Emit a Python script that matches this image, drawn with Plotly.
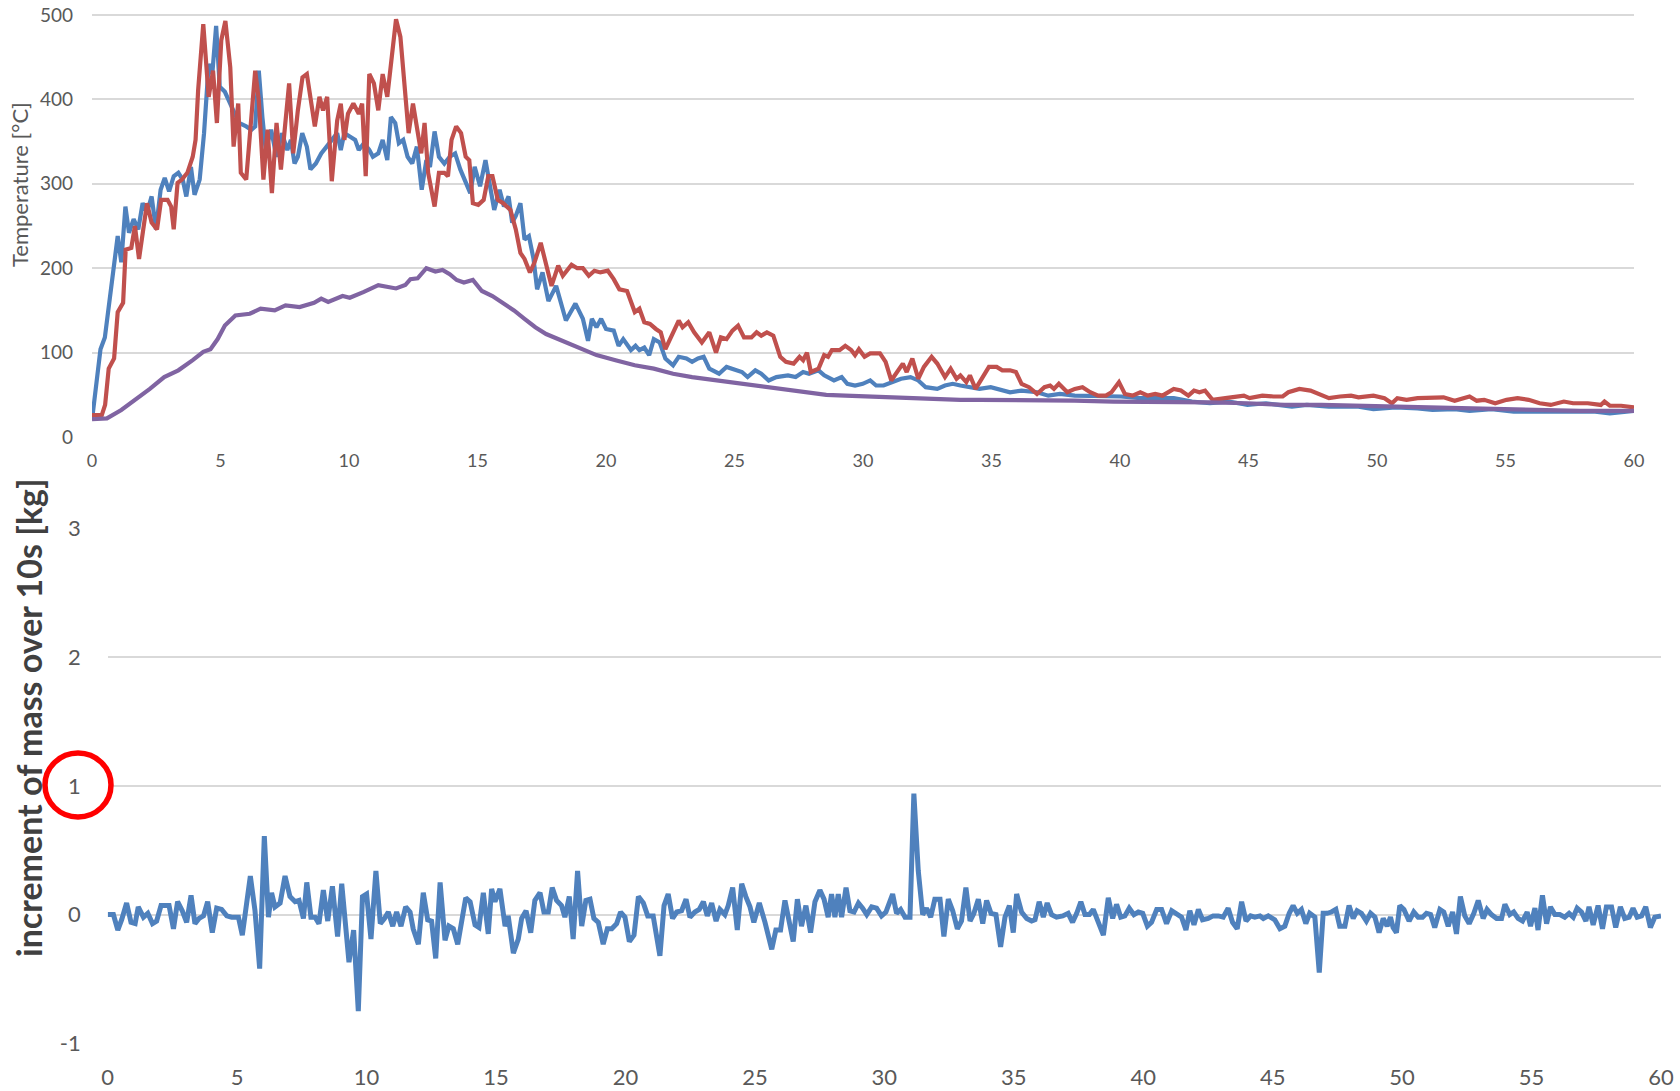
import plotly.graph_objects as go

# ---------------- data (time in minutes) ----------------
blue_t = [0, 0.33, 0.5, 1.0, 1.14, 1.3, 1.44, 1.62, 1.8, 1.97, 2.14, 2.32, 2.49, 2.67, 2.83, 3.0, 3.18, 3.36, 3.53, 3.67,
          3.85, 3.99, 4.19, 4.36, 4.54, 4.68, 4.83, 4.97, 5.17, 5.44, 5.72, 6.0, 6.2, 6.35, 6.49, 6.63, 6.76, 6.97, 7.18,
          7.39, 7.6, 7.74, 7.88, 8.01, 8.18, 8.36, 8.5, 8.71, 8.92, 9.13, 9.33, 9.54, 9.68, 9.82, 10.03, 10.24, 10.38,
          10.58, 10.79, 10.93, 11.14, 11.31, 11.49, 11.63, 11.8, 11.94, 12.11, 12.28, 12.46, 12.64, 12.83, 13.01, 13.15,
          13.33, 13.5, 13.71, 13.92, 14.13, 14.33, 14.54, 14.72, 14.89, 15.1, 15.31, 15.47, 15.65, 15.86, 16.03, 16.21,
          16.35, 16.49, 16.67, 16.83, 17.0, 17.18, 17.32, 17.53, 17.76, 18.06, 18.44, 18.81, 19.1, 19.3, 19.45, 19.63,
          19.81, 20.0, 20.3, 20.49, 20.67, 20.97, 21.15, 21.3, 21.49, 21.68, 21.86, 22.09, 22.31, 22.61, 22.83, 23.13,
          23.35, 23.58, 23.8, 24.02, 24.4, 24.69, 25.07, 25.29, 25.51, 25.81, 26.04, 26.33, 26.63, 27.08, 27.38, 27.67,
          27.9, 28.27, 28.49, 28.87, 29.17, 29.39, 29.69, 29.99, 30.28, 30.51, 30.8, 31.18, 31.48, 31.85, 32.15, 32.44,
          32.89, 33.19, 33.49, 33.79, 34.23, 34.53, 34.97, 35.27, 35.72, 36.17, 36.77, 37.21, 37.66, 38.24, 38.84,
          39.45, 40.04, 40.79, 42.09, 42.8, 43.5, 44.24, 44.96, 45.68, 46.69, 47.27, 48.13, 49.28, 49.86, 50.72, 51.58,
          52.16, 53.02, 53.6, 54.46, 55.32, 56.47, 57.63, 58.49, 59.06, 60]
blue_v = [20, 104, 118, 238, 207, 273, 242, 258, 246, 277, 266, 285, 246, 293, 307, 291, 309, 313, 305, 285,
          320, 287, 305, 360, 442, 430, 487, 415, 409, 391, 372, 368, 364, 368, 434, 379, 340, 364, 332,
          360, 340, 352, 324, 332, 360, 344, 317, 324, 336, 344, 352, 360, 340, 360, 356, 352, 340,
          348, 340, 332, 336, 352, 328, 379, 372, 348, 352, 332, 324, 344, 293, 328, 320,
          362, 332, 324, 332, 336, 317, 301, 289, 320, 297, 328, 297, 269, 293, 273, 285,
          254, 262, 277, 234, 238, 211, 175, 195, 161, 179, 138, 158, 140, 114, 140, 130,
          140, 128, 126, 108, 116, 103, 108, 103, 106, 97, 116, 112, 93, 85, 95, 93,
          89, 93, 95, 81, 75, 83, 79, 77, 71, 79, 75, 67, 71, 73, 71, 77,
          75, 79, 73, 67, 71, 63, 61, 63, 67, 61, 61, 65, 69, 71, 67, 59,
          57, 61, 63, 61, 59, 57, 59, 57, 53, 55, 53, 49, 51, 49, 49,
          48, 48, 46, 46, 42, 40, 42, 38, 40, 36, 38, 36, 36, 33, 35, 34,
          32, 33, 31, 33, 30, 30, 29, 30, 28, 31]

red_t = [0, 0.38, 0.51, 0.65, 0.86, 1.0, 1.21, 1.31, 1.53, 1.67, 1.83, 2.14, 2.32, 2.53, 2.69, 2.94, 3.08, 3.18, 3.33,
         3.5, 3.71, 3.92, 4.03, 4.13, 4.33, 4.54, 4.71, 4.86, 5.03, 5.19, 5.38, 5.51, 5.69, 5.79, 6.0, 6.21, 6.35,
         6.49, 6.67, 6.83, 7.0, 7.18, 7.35, 7.67, 7.83, 8.01, 8.19, 8.36, 8.5, 8.67, 8.85, 8.99, 9.15, 9.33, 9.54,
         9.68, 9.82, 9.96, 10.17, 10.38, 10.51, 10.65, 10.79, 10.97, 11.14, 11.31, 11.49, 11.67, 11.83, 12.0, 12.19,
         12.32, 12.49, 12.67, 12.81, 12.94, 13.08, 13.33, 13.5, 13.71, 13.85, 13.99, 14.17, 14.36, 14.54, 14.68,
         14.82, 15.03, 15.24, 15.42, 15.58, 15.79, 16.0, 16.28, 16.49, 16.67, 16.83, 17.04, 17.22, 17.46, 17.67,
         17.88, 18.14, 18.32, 18.66, 18.88, 19.1, 19.33, 19.55, 19.78, 20.07, 20.3, 20.52, 20.82, 21.12, 21.3,
         21.49, 21.71, 21.94, 22.13, 22.31, 22.61, 22.83, 22.98, 23.2, 23.43, 23.73, 24.02, 24.28, 24.47, 24.69,
         24.92, 25.14, 25.37, 25.66, 25.86, 26.04, 26.26, 26.51, 26.78, 27.0, 27.3, 27.53, 27.67, 27.82, 27.97,
         28.27, 28.49, 28.64, 28.79, 29.09, 29.31, 29.54, 29.69, 29.84, 30.06, 30.28, 30.66, 30.88, 31.1, 31.33,
         31.55, 31.7, 31.92, 32.15, 32.37, 32.67, 32.89, 33.19, 33.41, 33.64, 33.79, 34.02, 34.16, 34.38, 34.68,
         34.9, 35.2, 35.42, 35.72, 35.95, 36.17, 36.46, 36.77, 37.06, 37.28, 37.43, 37.62, 37.95, 38.24, 38.54,
         38.84, 39.15, 39.45, 39.67, 39.96, 40.19, 40.49, 40.79, 41.08, 41.37, 41.65, 42.09, 42.37, 42.66, 42.88,
         43.09, 43.31, 43.6, 44.1, 44.53, 44.82, 45.04, 45.54, 45.97, 46.33, 46.55, 46.98, 47.41, 47.7, 48.13,
         48.56, 48.99, 49.28, 49.86, 50.29, 50.58, 50.79, 51.15, 51.58, 52.16, 52.59, 53.02, 53.6, 53.88, 54.17,
         54.6, 55.04, 55.47, 55.9, 56.33, 56.76, 57.27, 57.63, 58.2, 58.71, 58.85, 59.06, 59.5, 60]
red_v = [26, 26, 38, 81, 93, 148, 159, 222, 224, 250, 211, 277, 254, 246, 281, 281, 273, 246, 301,
         305, 313, 332, 352, 411, 489, 403, 434, 372, 470, 493, 438, 344, 395, 313, 305, 391, 434,
         399, 305, 364, 289, 372, 317, 419, 336, 387, 426, 430, 403, 368, 403, 387, 403, 303, 375,
         395, 352, 383, 395, 383, 395, 309, 430, 419, 387, 430, 403, 454, 495, 474, 407,
         360, 395, 364, 336, 372, 313, 273, 313, 313, 309, 352, 368, 360, 332, 328,
         277, 275, 281, 309, 309, 281, 277, 269, 246, 218, 211, 195, 207, 230, 203,
         179, 203, 191, 204, 200, 200, 191, 197, 195, 197, 187, 175, 173, 148, 152,
         136, 134, 128, 124, 104, 124, 138, 130, 136, 124, 112, 124, 100, 118, 116,
         126, 132, 118, 118, 124, 120, 124, 120, 95, 89, 87, 95, 91, 100, 77,
         81, 97, 95, 103, 103, 108, 103, 97, 104, 95, 99, 99, 89, 67, 77,
         87, 77, 93, 69, 83, 95, 87, 71, 81, 69, 73, 65, 73, 57, 73,
         83, 83, 79, 79, 77, 63, 59, 51, 59, 61, 57, 63, 53, 57, 59,
         53, 49, 49, 53, 65, 51, 49, 53, 49, 51, 49, 57, 55, 49, 55,
         53, 55, 44, 46, 48, 49, 46, 49, 48, 48, 53, 57, 55, 51, 46,
         48, 49, 47, 49, 46, 40, 46, 44, 46, 46, 47, 43, 48, 43, 44,
         40, 44, 46, 44, 40, 38, 42, 40, 40, 38, 42, 37, 37, 35]

purple_t = [0, 0.58, 1.14, 1.69, 2.25, 2.81, 3.36, 3.92, 4.33, 4.61, 4.89, 5.17, 5.58, 6.14, 6.56, 7.11, 7.53, 8.08,
            8.64, 8.92, 9.19, 9.75, 10.03, 10.58, 11.14, 11.83, 12.19, 12.39, 12.67, 13.01, 13.36, 13.64, 13.92,
            14.19, 14.47, 14.82, 15.17, 15.58, 16.0, 16.42, 16.83, 17.25, 17.67, 18.08, 18.88, 19.63, 20.37, 21.12,
            21.86, 22.61, 23.35, 24.1, 24.84, 25.59, 26.33, 27.08, 27.82, 28.57, 29.31, 30.06, 30.8, 31.55, 32.3,
            33.04, 33.79, 34.53, 35.28, 36.77, 38.24, 39.74, 40.6, 42.09, 43.5, 44.96, 46.4, 47.84, 49.28, 50.72,
            52.16, 53.6, 55.04, 56.47, 57.91, 60]
purple_v = [21, 22, 32, 44, 57, 71, 79, 91, 101, 104, 116, 132, 144, 146, 152, 150, 156, 154,
            159, 164, 160, 167, 165, 172, 180, 176, 180, 187, 188, 200, 196, 198, 193,
            186, 183, 186, 173, 167, 159, 150, 140, 130, 122, 117, 106, 97, 91, 85,
            81, 75, 71, 68, 66, 63, 60, 57, 53, 50, 49, 48, 47, 47, 46,
            45, 44, 44, 44, 44, 43, 42, 42, 42, 41, 40, 38, 38, 37, 35,
            35, 34, 33, 32, 31, 31]

mass_t = [0, 0.22, 0.39, 0.54, 0.73, 0.90, 1.06, 1.18, 1.38, 1.55, 1.73, 1.89, 2.06, 2.37, 2.54, 2.70, 2.88, 3.05,
          3.22, 3.37, 3.53, 3.70, 3.86, 4.04, 4.21, 4.40, 4.60, 4.79, 5.05, 5.20, 5.51, 5.69, 5.87, 6.05, 6.21,
          6.33, 6.46, 6.66, 6.85, 7.04, 7.24, 7.39, 7.56, 7.69, 7.85, 8.01, 8.16, 8.33, 8.50, 8.68, 8.88, 9.04,
          9.32, 9.50, 9.68, 9.84, 10.00, 10.17, 10.36, 10.53, 10.69, 10.84, 11.01, 11.16, 11.33, 11.51, 11.68,
          11.80, 12.00, 12.19, 12.36, 12.51, 12.67, 12.84, 13.03, 13.18, 13.35, 13.52, 13.83, 14.00, 14.19, 14.34,
          14.51, 14.70, 14.83, 14.96, 15.15, 15.35, 15.47, 15.67, 15.86, 15.99, 16.16, 16.34, 16.50, 16.70, 16.85,
          17.02, 17.17, 17.34, 17.53, 17.66, 17.83, 17.98, 18.15, 18.31, 18.47, 18.63, 18.78, 18.95, 19.14, 19.30,
          19.47, 19.66, 19.81, 19.98, 20.15, 20.33, 20.50, 20.69, 20.86, 21.07, 21.33, 21.49, 21.65, 21.82, 21.98,
          22.17, 22.34, 22.49, 22.68, 22.85, 23.01, 23.16, 23.33, 23.50, 23.65, 23.84, 23.97, 24.14, 24.32, 24.49,
          24.65, 24.81, 24.96, 25.17, 25.39, 25.65, 25.81, 25.99, 26.16, 26.33, 26.48, 26.64, 26.80, 26.97, 27.15,
          27.32, 27.51, 27.67, 27.83, 27.96, 28.09, 28.22, 28.35, 28.52, 28.67, 28.83, 29.00, 29.16, 29.32, 29.51,
          29.70, 29.89, 30.06, 30.32, 30.47, 30.63, 30.80, 30.99, 31.14, 31.31, 31.48, 31.63, 31.79, 31.95, 32.15,
          32.30, 32.47, 32.64, 32.82, 32.98, 33.15, 33.31, 33.46, 33.63, 33.80, 33.95, 34.12, 34.31, 34.49, 34.66,
          34.83, 34.98, 35.11, 35.30, 35.50, 35.69, 35.82, 35.98, 36.14, 36.29, 36.46, 36.65, 36.89, 37.10, 37.27,
          37.43, 37.59, 37.75, 37.92, 38.07, 38.26, 38.46, 38.65, 38.82, 38.97, 39.13, 39.29, 39.46, 39.64, 39.81,
          39.98, 40.16, 40.32, 40.52, 40.71, 40.90, 41.10, 41.29, 41.48, 41.65, 41.80, 41.96, 42.13, 42.29, 42.51,
          42.70, 42.90, 43.09, 43.28, 43.45, 43.63, 43.80, 43.97, 44.15, 44.31, 44.51, 44.64, 44.83, 45.08, 45.28,
          45.47, 45.64, 45.79, 45.95, 46.11, 46.28, 46.43, 46.63, 46.80, 46.95, 47.10, 47.27, 47.44, 47.59, 47.79,
          47.95, 48.11, 48.26, 48.43, 48.62, 48.78, 48.95, 49.11, 49.27, 49.42, 49.55, 49.65, 49.78, 49.91, 50.07,
          50.27, 50.45, 50.62, 50.79, 50.94, 51.10, 51.26, 51.46, 51.61, 51.78, 51.95, 52.10, 52.25, 52.42, 52.59,
          52.77, 52.94, 53.13, 53.28, 53.45, 53.65, 53.84, 53.97, 54.16, 54.31, 54.48, 54.65, 54.83, 54.96, 55.13,
          55.25, 55.42, 55.58, 55.73, 55.90, 56.09, 56.28, 56.45, 56.61, 56.76, 56.93, 57.10, 57.22, 57.38, 57.57,
          57.74, 57.89, 58.09, 58.25, 58.43, 58.60, 58.77, 58.92, 59.08, 59.25, 59.41, 59.59, 59.76, 60.0]
mass_v = [0, 0, -0.12, -0.04, 0.09, -0.06, -0.07, 0.06, -0.02, 0.01, -0.07, -0.05, 0.07, 0.07, -0.11, 0.10, 0.03, -0.06,
          0.15, -0.07, -0.03, -0.01, 0.10, -0.14, 0.05, 0.04, -0.01, -0.02, -0.02, -0.16, 0.30, 0.03, -0.42, 0.61, -0.02,
          0.17, 0.06, 0.09, 0.30, 0.14, 0.10, 0.11, -0.03, 0.25, -0.02, -0.02, -0.07, 0.19, -0.05, 0.22, -0.17, 0.24,
          -0.37, -0.12, -0.75, 0.14, 0.16, -0.19, 0.34, -0.07, -0.03, 0.02, -0.09, 0.02, -0.09, 0.06, 0.02,
          -0.11, -0.23, 0.17, -0.04, -0.05, -0.34, 0.25, -0.20, -0.09, -0.11, -0.23, 0.13, 0.10, -0.08, -0.10,
          0.17, -0.15, 0.20, 0.10, 0.20, -0.09, -0.01, -0.30, -0.19, -0.03, 0.03, -0.14, 0.11, 0.17, 0.02,
          0.02, 0.21, 0.11, 0.07, -0.02, 0.14, -0.19, 0.34, -0.09, 0.11, 0.12, -0.03, -0.06, -0.23, -0.11,
          -0.11, -0.07, 0.02, -0.02, -0.21, -0.16, 0.14, 0.09, -0.01, -0.01, -0.32, 0.07, 0.16, -0.03, 0.02,
          0.03, 0.12, -0.02, 0.02, 0.04, 0.10, -0.01, 0.09, -0.05, 0.04, 0.00, 0.07, 0.21, -0.12, 0.24,
          0.14, 0.06, -0.06, 0.09, -0.06, -0.27, -0.12, -0.12, 0.11, -0.06, -0.21, 0.12, -0.09, 0.07, -0.14,
          0.10, 0.19, 0.12, -0.02, 0.16, -0.02, 0.16, -0.02, 0.21, 0.03, 0.02, 0.09, 0.05, 0.00, 0.06,
          0.05, -0.01, 0.02, 0.16, 0.01, 0.04, -0.02, -0.02, 0.94, 0.34, 0.00, 0.05, -0.02, 0.12, 0.12,
          -0.17, 0.12, 0.03, -0.11, -0.05, 0.21, -0.05, 0.01, 0.12, -0.07, 0.11, 0.01, 0.00, -0.25, -0.02,
          0.07, -0.14, 0.16, 0.02, -0.03, -0.05, -0.04, 0.10, -0.02, 0.09, 0.00, -0.02, -0.01, 0.01, -0.06,
          0.01, 0.10, 0.00, 0.00, 0.04, -0.05, -0.16, 0.13, -0.03, 0.08, -0.02, -0.01, 0.05, 0.00, 0.02,
          0.01, -0.09, -0.06, 0.04, 0.04, -0.07, 0.03, 0.00, -0.02, -0.12, 0.03, -0.08, 0.04, -0.04, -0.03,
          -0.01, -0.01, -0.02, 0.05, -0.06, -0.11, 0.10, -0.05, -0.01, -0.02, -0.01, -0.03, -0.01, -0.04, -0.11,
          -0.09, 0.01, 0.07, 0.01, 0.04, -0.07, 0.01, -0.02, -0.45, 0.01, 0.01, 0.02, 0.04, -0.09, -0.09,
          0.07, -0.03, 0.03, 0.01, -0.05, 0.01, -0.02, -0.14, -0.03, -0.09, -0.02, -0.10, -0.14, 0.07, 0.04,
          -0.05, 0.02, -0.02, -0.02, 0.01, 0.00, -0.10, 0.04, 0.02, -0.09, 0.02, -0.15, 0.14, -0.01, -0.07,
          0.01, 0.11, -0.03, 0.04, 0.00, -0.03, -0.03, 0.08, 0.00, 0.02, -0.03, -0.05, 0.02, -0.09, 0.05,
          -0.12, 0.15, -0.07, 0.06, 0.00, 0.00, -0.02, 0.01, -0.02, 0.05, 0.02, -0.05, 0.06, -0.08, 0.07,
          -0.11, 0.06, 0.06, -0.10, 0.06, -0.03, -0.02, 0.05, -0.02, -0.01, 0.06, -0.10, -0.02, -0.01]

time_ticks = [0, 5, 10, 15, 20, 25, 30, 35, 40, 45, 50, 55, 60]
temp_ticks = [0, 100, 200, 300, 400, 500]
mass_ticks = [-1, 0, 1, 2, 3]
mass_tick_labels = ["-1", "0", "1", "2", "3"]

# ---------------- styling ----------------
W, H = 1680, 1091
FONT = "Lato, 'Open Sans', sans-serif"
GRID = "#d9d9d9"
TICKC = "#595959"

fig = go.Figure()
fig.add_trace(go.Scatter(x=blue_t, y=blue_v, mode="lines", line=dict(color="#4f81bd", width=4.2),
                         xaxis="x", yaxis="y", showlegend=False, cliponaxis=False))
fig.add_trace(go.Scatter(x=red_t, y=red_v, mode="lines", line=dict(color="#c0504d", width=4.2),
                         xaxis="x", yaxis="y", showlegend=False, cliponaxis=False))
fig.add_trace(go.Scatter(x=purple_t, y=purple_v, mode="lines", line=dict(color="#8064a2", width=4.2),
                         xaxis="x", yaxis="y", showlegend=False, cliponaxis=False))
fig.add_trace(go.Scatter(x=mass_t, y=mass_v, mode="lines", line=dict(color="#4f81bd", width=5),
                         xaxis="x2", yaxis="y2", showlegend=False))

fig.update_layout(
    template="none",
    width=W, height=H, margin=dict(l=0, r=0, t=0, b=0, pad=0, autoexpand=False),
    paper_bgcolor="white", plot_bgcolor="white",
    font=dict(family=FONT, color=TICKC),
    xaxis=dict(domain=[92 / W, 1634 / W], anchor="y", range=[0, 60], tickvals=time_ticks,
               showgrid=False, zeroline=False, showline=False, ticks="", automargin=False,
               tickfont=dict(size=18, color=TICKC), ticklabelstandoff=11),
    yaxis=dict(domain=[1 - 437 / H, 1 - 11 / H], anchor="x", range=[0, 504.7], tickvals=temp_ticks,
               showgrid=True, gridcolor=GRID, gridwidth=2, zeroline=False, showline=False, ticks="",
               automargin=False, tickfont=dict(size=19, color=TICKC), ticklabelstandoff=18),
    xaxis2=dict(domain=[107.7 / W, 1661 / W], anchor="y2", range=[0, 60], tickvals=time_ticks,
                showgrid=False, zeroline=False, showline=False, ticks="", automargin=False,
                tickfont=dict(size=22, color=TICKC), ticklabelstandoff=19),
    yaxis2=dict(domain=[1 - 1043.3 / H, 1 - 528.5 / H], anchor="x2", range=[-1, 3], tickvals=mass_ticks,
                ticktext=mass_tick_labels,
                showgrid=True, gridcolor=GRID, gridwidth=2, zeroline=False, showline=False, ticks="",
                automargin=False, tickfont=dict(size=22, color=TICKC), ticklabelstandoff=26),
    annotations=[
        dict(text="Temperature [°C]", x=19 / W, y=1 - 185 / H, xref="paper", yref="paper",
             showarrow=False, textangle=-90, xanchor="center", yanchor="middle",
             font=dict(size=22, color=TICKC, family=FONT)),
        dict(text="<b>increment of mass over 10s [kg]</b>", x=29 / W, y=1 - 718 / H, xref="paper", yref="paper",
             showarrow=False, textangle=-90, xanchor="center", yanchor="middle",
             font=dict(size=34, color="#404040", family=FONT)),
    ],
    shapes=[
        dict(type="circle", xref="paper", yref="paper",
             x0=(78 - 33) / W, x1=(78 + 33) / W, y0=1 - (785 + 32) / H, y1=1 - (785 - 32) / H,
             line=dict(color="#ff0000", width=5.5), fillcolor="rgba(0,0,0,0)"),
    ],
)

fig.write_html("out.html")
